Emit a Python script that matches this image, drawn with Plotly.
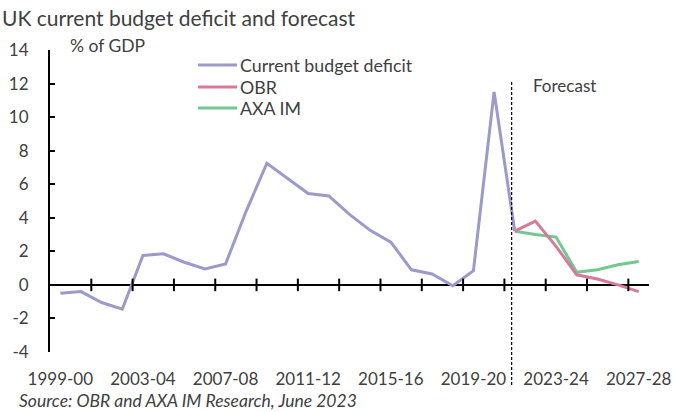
import plotly.graph_objects as go

# Fiscal years on the category axis
years = ["1999-00", "2000-01", "2001-02", "2002-03", "2003-04", "2004-05",
         "2005-06", "2006-07", "2007-08", "2008-09", "2009-10", "2010-11",
         "2011-12", "2012-13", "2013-14", "2014-15", "2015-16", "2016-17",
         "2017-18", "2018-19", "2019-20", "2020-21", "2021-22", "2022-23",
         "2023-24", "2024-25", "2025-26", "2026-27", "2027-28"]

# Current budget deficit, % of GDP (outturn 1999-00 to 2021-22)
deficit = [-0.5, -0.4, -1.05, -1.45, 1.75, 1.85, 1.35, 0.95, 1.25, 4.4,
           7.25, 6.35, 5.45, 5.3, 4.2, 3.25, 2.55, 0.9, 0.65, -0.05,
           0.85, 11.5, 3.2]

# Forecasts, 2021-22 to 2027-28
obr = [3.2, 3.8, 2.3, 0.6, 0.35, 0.0, -0.4]
axa = [3.2, 3.0, 2.85, 0.75, 0.9, 1.2, 1.4]

series_names = ["Current budget deficit", "OBR", "AXA IM"]
series_colors = ["#9C9AC8", "#D67A9B", "#72C890"]

y_ticks = list(range(-4, 15, 2))
y_ticktext = [str(v).replace("\u2212", "-") for v in y_ticks]

label_years = years[::4]
boundary_ticks = [i + 0.5 for i in range(1, 28, 2)]
forecast_start = 21.85

FONT = "Lato"
TXT = "#404040"

W, H = 673, 412
M_L, M_R, M_T, M_B = 50, 24, 50, 60
PW, PH = W - M_L - M_R, H - M_T - M_B


def px_x(p):
    return (p - M_L) / PW


def px_y(p):
    return (H - M_B - p) / PH


x_idx = list(range(len(years)))
fc_idx = x_idx[len(deficit) - 1:]

fig = go.Figure()
# drawing order: outturn, AXA IM, then OBR on top
for i in (0, 2, 1):
    xs = x_idx[:len(deficit)] if i == 0 else fc_idx
    ys = [deficit, obr, axa][i]
    fig.add_trace(go.Scatter(x=xs, y=ys, mode="lines", name=series_names[i],
                             showlegend=False,
                             line=dict(color=series_colors[i], width=3)))

# tick marks crossing the horizontal axis at zero
fig.add_trace(go.Scatter(x=boundary_ticks, y=[0] * len(boundary_ticks),
                         mode="markers", showlegend=False, hoverinfo="skip",
                         marker=dict(symbol="line-ns", size=9,
                                     line=dict(color="black", width=2))))

x_rng = [-0.5, 28.5]

fig.update_layout(
    width=W, height=H,
    margin=dict(l=M_L, r=M_R, t=M_T, b=M_B),
    plot_bgcolor="white", paper_bgcolor="white",
    font=dict(family=FONT, color=TXT, size=17),
    showlegend=False,
    xaxis=dict(range=x_rng, showline=False, automargin=False,
               ticks="outside", ticklen=12, tickcolor="rgba(0,0,0,0)",
               tickvals=x_idx[::4], ticktext=label_years,
               tickfont=dict(size=17, color=TXT),
               showgrid=False, zeroline=False),
    yaxis=dict(range=[y_ticks[0], y_ticks[-1]],
               tickvals=y_ticks, ticktext=y_ticktext,
               showline=True, automargin=False,
               linecolor="black", linewidth=2,
               ticks="inside", ticklen=5, tickwidth=2, tickcolor="black",
               ticklabelstandoff=16,
               tickfont=dict(size=17, color=TXT),
               showgrid=False, zeroline=True, zerolinecolor="black",
               zerolinewidth=2),
)

# legend: short line sample plus label for each series
leg_x0, leg_x1, leg_rows = 198, 237, [65, 87, 108]
for name, col, row in zip(series_names, series_colors, leg_rows):
    fig.add_shape(type="line", xref="paper", yref="paper",
                  x0=px_x(leg_x0), x1=px_x(leg_x1),
                  y0=px_y(row), y1=px_y(row),
                  line=dict(color=col, width=3))
    fig.add_annotation(text=name, xref="paper", yref="paper",
                       x=px_x(leg_x1 + 1), y=px_y(row),
                       xanchor="left", yanchor="middle", showarrow=False,
                       font=dict(size=17.8, color=TXT))

fig.add_shape(type="line", xref="x", yref="paper",
              x0=forecast_start, x1=forecast_start,
              y0=px_y(82), y1=px_y(386),
              line=dict(color="black", width=1.2, dash="3px,2px"))

fig.add_annotation(text="UK current budget deficit and forecast",
                   xref="paper", yref="paper", x=px_x(0), y=px_y(18),
                   xanchor="left", yanchor="middle", showarrow=False,
                   font=dict(size=21, color=TXT))
fig.add_annotation(text="% of GDP", xref="paper", yref="paper",
                   x=px_x(68), y=px_y(46), xanchor="left", yanchor="middle",
                   showarrow=False, font=dict(size=17.5, color=TXT))
fig.add_annotation(text="Forecast", xref="paper", yref="paper",
                   x=px_x(531), y=px_y(85), xanchor="left", yanchor="middle",
                   showarrow=False, font=dict(size=17, color=TXT))
fig.add_annotation(text="<i>Source: OBR and AXA IM Research, June 2023</i>",
                   xref="paper", yref="paper", x=px_x(17), y=px_y(400),
                   xanchor="left", yanchor="middle", showarrow=False,
                   font=dict(size=17.5, color=TXT, style="italic"))

fig.write_html("out.html")
